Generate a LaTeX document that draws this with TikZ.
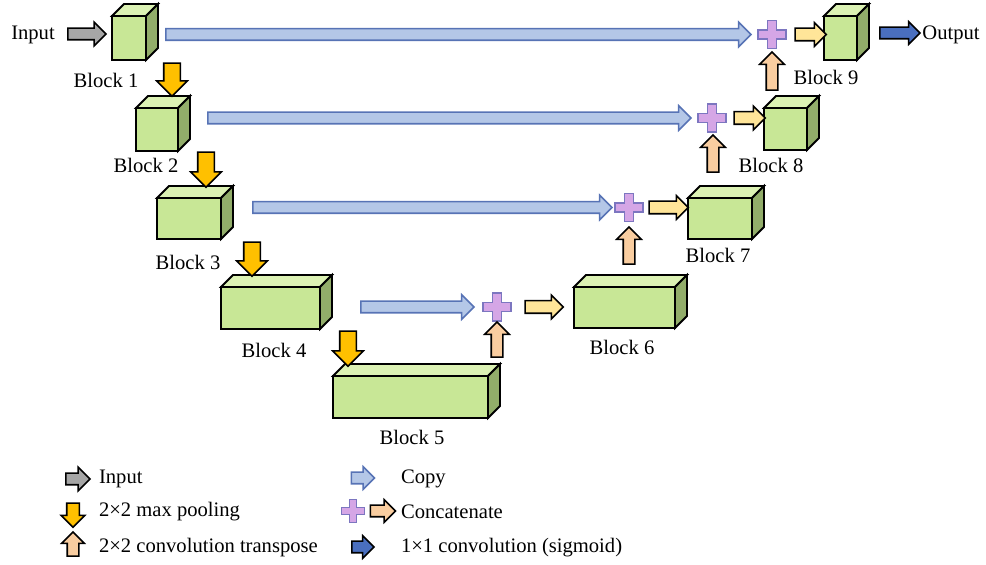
\documentclass[tikz,border=0pt]{standalone}
\usepackage{fontspec}
\setmainfont{Liberation Serif}
\usepackage{tikz}
\usetikzlibrary{shapes.arrows}

\definecolor{frontgreen}{HTML}{C8E796}
\definecolor{topgreen}{HTML}{DCF2B4}
\definecolor{sidegreen}{HTML}{92AD6A}
\definecolor{copyfill}{HTML}{B4C7E7}
\definecolor{copyline}{HTML}{5773B5}
\definecolor{plusfill}{HTML}{D5A6E6}
\definecolor{plusline}{HTML}{7C76C0}
\definecolor{poolfill}{HTML}{FFC000}
\definecolor{upfill}{HTML}{F9CDA0}
\definecolor{catfill}{HTML}{FFE599}
\definecolor{inputfill}{HTML}{A6A6A6}
\definecolor{outfill}{HTML}{4A6FBF}

\begin{document}
\begin{tikzpicture}[x=0.5pt,y=-0.5pt,line join=miter,
    font=\fontsize{10.3}{12}\selectfont,
    frontface/.style={draw,line width=0.9pt,fill=frontgreen,inner sep=0pt,outer sep=0pt},
    topface/.style={draw,line width=0.9pt,fill=topgreen},
    sideface/.style={draw,line width=0.9pt,fill=sidegreen},
    barrow/.style={single arrow,draw,line width=0.8pt,inner xsep=0pt,
      inner ysep=2.5pt,outer sep=0pt,minimum width=11pt,
      single arrow head extend=3pt},
    inarrow/.style={barrow,fill=inputfill},
    copyarrow/.style={barrow,draw=copyline,fill=copyfill,minimum width=11.5pt,
      single arrow head extend=3.25pt},
    poolarrow/.style={barrow,fill=poolfill,inner ysep=3.75pt,minimum width=14.5pt,
      single arrow head extend=3.5pt,rotate=-90},
    transarrow/.style={barrow,fill=upfill,minimum width=11.5pt,
      single arrow head extend=3.25pt,rotate=90},
    catarrow/.style={barrow,fill=catfill,inner ysep=2.75pt,
      single arrow head extend=2.75pt},
    outarrow/.style={barrow,fill=outfill,minimum width=10.5pt,
      single arrow head extend=2.75pt},
    pics/plussign/.style={code={
      \draw[plusline,fill=plusfill,line width=0.8pt]
        (-4.5,-14) -- (4.5,-14) -- (4.5,-4.5) -- (14,-4.5) -- (14,4.5)
        -- (4.5,4.5) -- (4.5,14) -- (-4.5,14) -- (-4.5,4.5) -- (-14,4.5)
        -- (-14,-4.5) -- (-4.5,-4.5) -- cycle;}}]
  \useasboundingbox (0,0) rectangle (986,565);

  % blocks: number / front corner / size / label
  \foreach \n/\x/\y/\w/\h/\lx/\ly in {1/112/16/34/44/106/80,
      2/136/108/42/43/146/165, 3/157/198/64/41/188/262,
      4/221/287/99/42/274/350, 5/333/376/155/42/412/437,
      6/574/287/101/41/622/347, 7/688/198/64/41/718/255,
      8/764/108/43/42/771/165, 9/824/16/33/44/826/77}{
    \node[frontface,anchor=north west,minimum width=\w*0.5pt,
      minimum height=\h*0.5pt] (b\n) at (\x,\y) {};
    \draw[topface] (b\n.north west) -- ++(12,-12) -- ++(\w,0)
      -- (b\n.north east) -- cycle;
    \draw[sideface] (b\n.north east) -- ++(12,-12) -- ++(0,\h)
      -- (b\n.south east) -- cycle;
    \node (l\n) at (\lx,\ly) {Block \n};
  }

  % input and output
  \node (intext) at (33,35) {Input};
  \node[inarrow,minimum height=19pt] (inarr) at (84,34) {};
  \node[outarrow,minimum height=20pt] (outarr) at (897,33) {};
  \node (outtext) at (951,35) {Output};

  % down path
  \node[poolarrow,minimum height=16.5pt] (d1) at (172,75.5) {};
  \node[poolarrow,minimum height=17.5pt] (d2) at (206,165.5) {};
  \node[poolarrow,minimum height=17pt] (d3) at (252,255) {};
  \node[poolarrow,minimum height=17.5pt] (d4) at (348,344.5) {};

  % copy connections
  \node[copyarrow,minimum height=292.5pt] (cp1) at (455.5,34.5) {};
  \node[copyarrow,minimum height=241.5pt] (cp2) at (446.5,118) {};
  \node[copyarrow,minimum height=179.5pt] (cp3) at (429.5,207.5) {};
  \node[copyarrow,minimum height=56.5pt] (cp4) at (414.5,307) {};

  % concatenation
  \pic (p1) at (772,34.5) {plussign};
  \pic (p2) at (712,118) {plussign};
  \pic (p3) at (629,207.5) {plussign};
  \pic (p4) at (497,307) {plussign};
  \node[catarrow,minimum height=15.5pt] (c1) at (807.5,34.5) {};
  \node[catarrow,minimum height=15.5pt] (c2) at (746.5,118) {};
  \node[catarrow,minimum height=19.5pt] (c3) at (665.5,207.5) {};
  \node[catarrow,minimum height=19pt] (c4) at (541,307) {};

  % up path
  \node[transarrow,minimum height=19pt] (u1) at (772,74) {};
  \node[transarrow,minimum height=18.5pt] (u2) at (713,156.5) {};
  \node[transarrow,minimum height=18.5pt] (u3) at (629,248.5) {};
  \node[transarrow,minimum height=17.5pt] (u4) at (497,342.5) {};

  % legend
  \node[inarrow,minimum height=12pt,minimum width=10.5pt] (lg1) at (75,479) {};
  \node[anchor=west] (lt1) at (92,479) {Input};
  \node[poolarrow,minimum height=12pt,minimum width=11pt,inner ysep=2.75pt,
    single arrow head extend=2.75pt] (lg2) at (73,512) {};
  \node[anchor=west] (lt2) at (92,512) {2×2 max pooling};
  \node[transarrow,minimum height=12pt,minimum width=11pt,
    single arrow head extend=2.75pt] (lg3) at (73,547) {};
  \node[anchor=west] (lt3) at (92,548) {2×2 convolution transpose};
  \node[copyarrow,minimum height=11.5pt,minimum width=10.5pt,
    single arrow head extend=2.75pt] (lg4) at (360,478) {};
  \node[anchor=west] (lt4) at (394,479) {Copy};
  \pic[scale=0.82] (lg5) at (353,511) {plussign};
  \node[barrow,fill=upfill,minimum height=12.5pt,minimum width=10.5pt,
    single arrow head extend=2.75pt] (lg6) at (380,511) {};
  \node[anchor=west] (lt5) at (394,512) {Concatenate};
  \node[outarrow,minimum height=11pt] (lg7) at (360,547) {};
  \node[anchor=west] (lt6) at (394,548) {1×1 convolution (sigmoid)};
\end{tikzpicture}
\end{document}
